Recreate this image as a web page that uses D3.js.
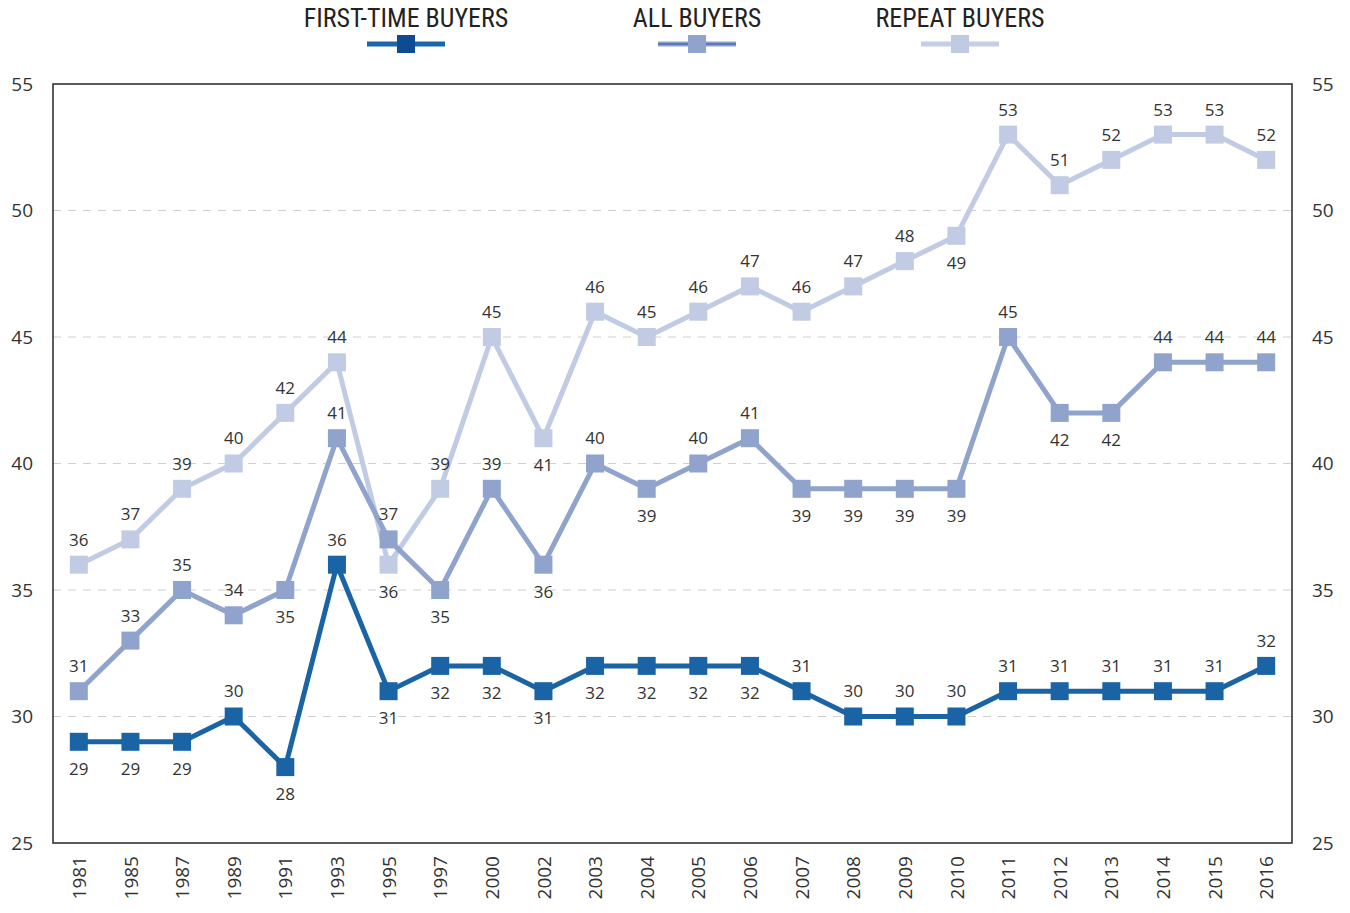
<!DOCTYPE html>
<html>
<head>
<meta charset="utf-8">
<script src="https://cdn.jsdelivr.net/npm/d3@7"></script>
<style>
  body { margin: 0; background: #fff; }
  svg { display: block; }
</style>
</head>
<body>
<div id="chart"></div>
<script>
// data
var years = ["1981", "1985", "1987", "1989", "1991", "1993", "1995", "1997", "2000", "2002", "2003", "2004",
  "2005", "2006", "2007", "2008", "2009", "2010", "2011", "2012", "2013", "2014", "2015", "2016"]
var firstTime = [29, 29, 29, 30, 28, 36, 31, 32, 32, 31, 32, 32, 32, 32, 31, 30, 30, 30, 31, 31, 31, 31, 31, 32]
var allBuyers = [31, 33, 35, 34, 35, 41, 37, 35, 39, 36, 40, 39, 40, 41, 39, 39, 39, 39, 45, 42, 42, 44, 44, 44]
var repeatBuyers = [36, 37, 39, 40, 42, 44, 36, 39, 45, 41, 46, 45, 46, 47, 46, 47, 48, 49, 53, 51, 52, 53, 53, 52]
// which side the value label sits on (a = above, b = below)
var firstSide = "bbbababbbbbbbbaaaaaaaaaa"
var allSide = "aaaabaababab" + "aabbbbabbaaa"
var repeatSide = "aaaaaabaabaaaaaaabaaaaaa"
var yTicks = [25, 30, 35, 40, 45, 50, 55]

var series = [
  { name: "REPEAT BUYERS", values: repeatBuyers, side: repeatSide, color: "#c1cbe4", legendLine: "#c6cee7", legendInner: null, legendBox: "#bfcae3" },
  { name: "ALL BUYERS", values: allBuyers, side: allSide, color: "#8fa3cc", legendLine: "#8fa3cc", legendInner: "#4a68b4", legendBox: "#8fa3cc" },
  { name: "FIRST-TIME BUYERS", values: firstTime, side: firstSide, color: "#1a64a6", legendLine: "#1a66a8", legendInner: null, legendBox: "#0e4b91" }
]

var width = 1350
var height = 913
var plotL = 53, plotR = 1292, plotT = 84, plotB = 843
var font = "'Open Sans', 'Noto Sans', sans-serif"

var svg = d3.select("#chart").append("svg")
  .attr("width", width)
  .attr("height", height)

var x = d3.scalePoint().domain(years).range([plotL, plotR]).padding(0.5)
var y = d3.scaleLinear().domain([25, 55]).range([plotB, plotT])

// dashed grid
svg.append("g")
  .selectAll("line")
  .data(yTicks.filter(function (d) { return d > 25 && d < 55 }))
  .enter()
  .append("line")
  .attr("x1", plotL)
  .attr("x2", plotR)
  .attr("y1", function (d) { return y(d) })
  .attr("y2", function (d) { return y(d) })
  .attr("stroke", "#cfcfcf")
  .attr("stroke-width", 1.2)
  .attr("stroke-dasharray", "8,7")

// frame
svg.append("rect")
  .attr("x", plotL)
  .attr("y", plotT)
  .attr("width", plotR - plotL)
  .attr("height", plotB - plotT)
  .attr("fill", "none")
  .attr("stroke", "#333")
  .attr("stroke-width", 1.6)

// y axes, both sides
var yLeft = svg.append("g")
  .attr("transform", "translate(" + plotL + ",0)")
  .call(d3.axisLeft(y).tickValues(yTicks).tickSize(0).tickPadding(20))
var yRight = svg.append("g")
  .attr("transform", "translate(" + plotR + ",0)")
  .call(d3.axisRight(y).tickValues(yTicks).tickSize(0).tickPadding(20))
;[yLeft, yRight].forEach(function (g) {
  g.select(".domain").remove()
  g.selectAll("text")
    .attr("font-family", font)
    .attr("font-size", 19)
    .attr("fill", "#333")
})

// x axis, rotated labels
var xAxis = svg.append("g")
  .attr("transform", "translate(0," + plotB + ")")
  .call(d3.axisBottom(x).tickSize(0))
xAxis.select(".domain").remove()
xAxis.selectAll("text")
  .attr("font-family", font)
  .attr("font-size", 19)
  .attr("fill", "#333")
  .attr("transform", "rotate(-90)")
  .attr("text-anchor", "end")
  .attr("x", -13)
  .attr("y", 0)
  .attr("dy", "0.35em")

var line = d3.line()
  .x(function (d, i) { return x(years[i]) })
  .y(function (d) { return y(d) })

var box = 18

series.forEach(function (s) {
  var g = svg.append("g")
  g.append("path")
    .datum(s.values)
    .attr("d", line)
    .attr("fill", "none")
    .attr("stroke", s.color)
    .attr("stroke-width", 5)
  g.selectAll("rect")
    .data(s.values)
    .enter()
    .append("rect")
    .attr("x", function (d, i) { return x(years[i]) - box / 2 })
    .attr("y", function (d) { return y(d) - box / 2 })
    .attr("width", box)
    .attr("height", box)
    .attr("fill", s.color)
})

// value labels on top
series.forEach(function (s) {
  svg.append("g")
    .selectAll("text")
    .data(s.values)
    .enter()
    .append("text")
    .attr("x", function (d, i) { return x(years[i]) })
    .attr("y", function (d, i) { return y(d) + (s.side[i] === "a" ? -25 : 27) })
    .attr("dy", "0.35em")
    .attr("text-anchor", "middle")
    .attr("font-family", font)
    .attr("font-size", 17)
    .attr("fill", "#333")
    .text(function (d) { return d })
})

// legend
var legendX = { "FIRST-TIME BUYERS": 406, "ALL BUYERS": 697, "REPEAT BUYERS": 960 }
var legend = svg.append("g")
series.slice().reverse().forEach(function (s) {
  var cx = legendX[s.name]
  var g = legend.append("g").attr("transform", "translate(" + cx + ",0)")
  g.append("text")
    .attr("x", 0)
    .attr("y", 27)
    .attr("text-anchor", "middle")
    .attr("font-family", "'Liberation Sans Narrow', 'Roboto Condensed', 'Open Sans', sans-serif")
    .attr("font-size", 26)
    .attr("fill", "#222")
    .text(s.name)
  g.append("line")
    .attr("x1", -39).attr("x2", 39)
    .attr("y1", 44).attr("y2", 44)
    .attr("stroke", s.legendLine)
    .attr("stroke-width", 5)
  if (s.legendInner) {
    g.append("line")
      .attr("x1", -39).attr("x2", 39)
      .attr("y1", 44).attr("y2", 44)
      .attr("stroke", s.legendInner)
      .attr("stroke-width", 1.5)
  }
  g.append("rect")
    .attr("x", -9).attr("y", 35)
    .attr("width", 18).attr("height", 18)
    .attr("fill", s.legendBox)
})
</script>
</body>
</html>
